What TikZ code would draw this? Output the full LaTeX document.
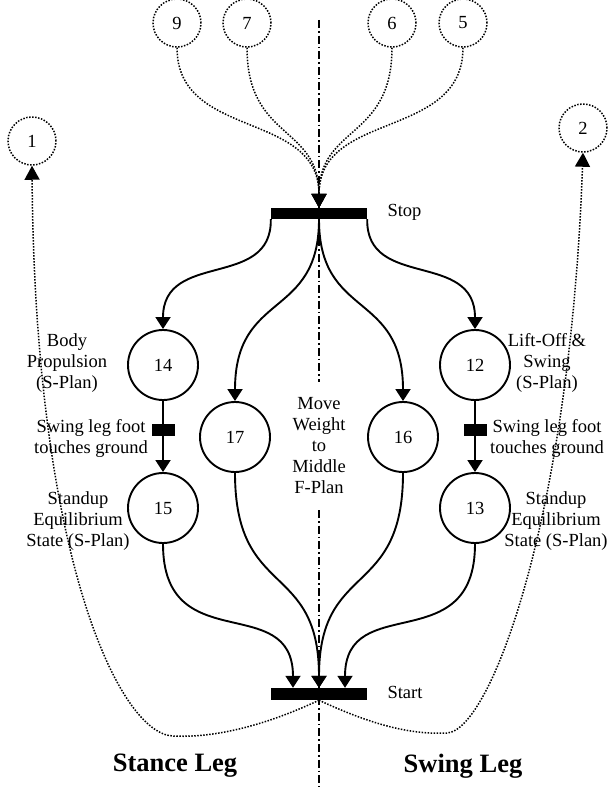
\documentclass[tikz,border=0pt]{standalone}
\usepackage{fontspec}
\setmainfont{Liberation Serif}
\usetikzlibrary{arrows.meta}

\begin{document}
\begin{tikzpicture}[x=1pt, y=-1pt,
  every node/.style={font=\fontsize{18.5}{21}\selectfont},
  place/.style={circle, draw, line width=1.9pt, minimum size=70pt, inner sep=0pt},
  refplace/.style={circle, draw, line width=1.5pt, dash pattern=on 1.5pt off 1.5pt, minimum size=48pt, inner sep=0pt},
  bar/.style={fill=black, inner sep=0pt},
  arc/.style={line width=1.9pt, -{Triangle[length=12pt,width=15pt]}},
  link/.style={line width=1.5pt, dash pattern=on 1.5pt off 1.5pt, -{Triangle[length=14pt,width=15pt]}},
  axisline/.style={line width=1.6pt, dash pattern=on 8pt off 3pt on 1.6pt off 3pt},
  note/.style={align=center},
  legname/.style={font=\fontsize{26.5}{30}\selectfont\bfseries}
]
\useasboundingbox (0,0) rectangle (609,789);
% middle axis
\draw[axisline] (319,20) -- (319,382);
\draw[axisline] (319,510) -- (319,787);

% transitions
\node[bar, minimum width=96pt, minimum height=11pt] (stop) at (319,213.5) {};
\node[bar, minimum width=96pt, minimum height=12pt] (start) at (319,694) {};
\node[bar, minimum width=23pt, minimum height=12pt] (tl) at (163,430) {};
\node[bar, minimum width=23pt, minimum height=12pt] (tr) at (475,430) {};
\node[anchor=west] (stoplbl) at (384,212) {Stop};
\node[anchor=west] (startlbl) at (384,692) {Start};

% places
\node[place] (c14) at (163,365) {14};
\node[place] (c15) at (163,508) {15};
\node[place] (c17) at (235,437) {17};
\node[place] (c16) at (403,437) {16};
\node[place] (c12) at (475,365) {12};
\node[place] (c13) at (475,508) {13};

% other plans
\node[refplace] (c9) at (177,23) {9};
\node[refplace] (c7) at (247,23) {7};
\node[refplace] (c6) at (392,23) {6};
\node[refplace] (c5) at (463,23) {5};
\node[refplace] (c1) at (32,141) {1};
\node[refplace] (c2) at (583,128) {2};

% labels
\node[note] (lbl14) at (67,363) {Body\\Propulsion\\(S-Plan)};
\node[note] (lbltl) at (91,438) {Swing leg foot\\touches ground};
\node[note] (lbl15) at (78,521) {Standup\\Equilibrium\\State (S-Plan)};
\node[note] (lblmid) at (319,446) {Move\\Weight\\to\\Middle\\F-Plan};
\node[note] (lbl12) at (547,363) {Lift-Off \&\\Swing\\(S-Plan)};
\node[note] (lbltr) at (547,438) {Swing leg foot\\touches ground};
\node[note] (lbl13) at (556,521) {Standup\\Equilibrium\\State (S-Plan)};
\node[legname] (stance) at (175,766) {Stance Leg};
\node[legname] (swing) at (463,766) {Swing Leg};

% stop -> places
\draw[arc] (stop.south west) .. controls (272,290) and (163,250) .. (c14.north);
\draw[arc] (stop.south) .. controls (319,320) and (235,290) .. (c17.north);
\draw[arc] (stop.south) .. controls (319,320) and (403,290) .. (c16.north);
\draw[arc] (stop.south east) .. controls (366,290) and (475,250) .. (c12.north);

% inner steps
\draw[line width=1.9pt] (c14) -- (tl);
\draw[arc] (tl) -- (c15);
\draw[line width=1.9pt] (c12) -- (tr);
\draw[arc] (tr) -- (c13);

% places -> start
\draw[arc] (c15.south) .. controls (163,660) and (293,590) .. ([xshift=-26pt]start.north);
\draw[arc] (c17.south) .. controls (235,600) and (319,560) .. (start.north);
\draw[arc] (c16.south) .. controls (403,600) and (319,560) .. (start.north);
\draw[arc] (c13.south) .. controls (475,660) and (345,590) .. ([xshift=26pt]start.north);

% incoming links
\draw[link] (c9.south) .. controls (177,140) and (319,110) .. (stop.north);
\draw[link] (c7.south) .. controls (247,140) and (319,125) .. (stop.north);
\draw[link] (c6.south) .. controls (392,140) and (319,125) .. (stop.north);
\draw[link] (c5.south) .. controls (463,140) and (319,110) .. (stop.north);

% outgoing links
\draw[link] (start.south) .. controls (260,728) and (210,738) .. (173,736)
  .. controls (120,734) and (35,560) .. (c1.south);
\draw[link] (start.south) .. controls (370,724) and (410,735) .. (447,733)
  .. controls (490,731) and (570,520) .. (c2.south);
\end{tikzpicture}
\end{document}
